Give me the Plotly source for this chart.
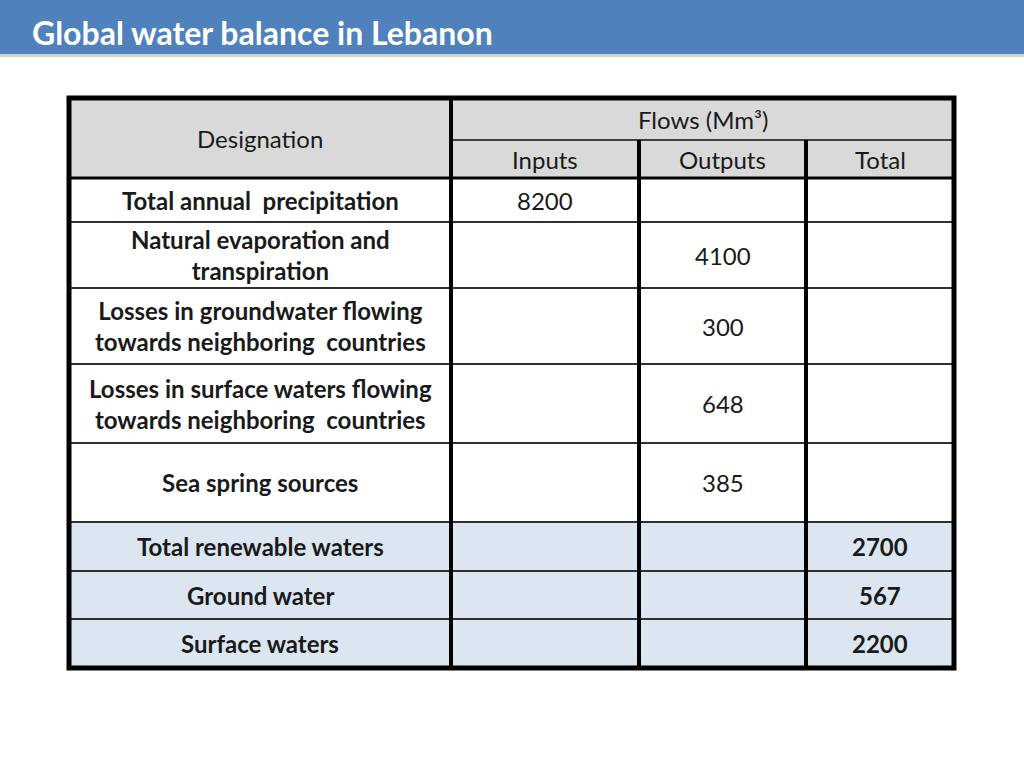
import plotly.graph_objects as go

# ---- data ----
title = "Global water balance in Lebanon"
header_top = ["Designation", "Flows (Mm³)"]
sub_headers = ["Inputs", "Outputs", "Total"]
designations = [
    "Total annual  precipitation",
    "Natural evaporation and<br>transpiration",
    "Losses in groundwater flowing<br>towards neighboring  countries",
    "Losses in surface waters flowing<br>towards neighboring  countries",
    "Sea spring sources",
    "Total renewable waters",
    "Ground water",
    "Surface waters",
]
inputs = ["8200", "", "", "", "", "", "", ""]
outputs = ["", "4100", "300", "648", "385", "", "", ""]
totals = ["", "", "", "", "", "2700", "567", "2200"]
highlight = [False, False, False, False, False, True, True, True]

# ---- layout (pixels) ----
W, H = 1024, 768
col_edges = [69, 451, 639, 806, 954]
head_edges = [98, 140, 178]
row_edges = [178, 222, 288, 364, 443, 522, 571, 619, 668]
FONT = "Lato, 'Open Sans', sans-serif"
FS = 24
GREY = "#D9D9D9"
BLUE = "#DCE6F1"

fig = go.Figure()
shapes = []
ann = []

# title bar
shapes.append(dict(type="rect", x0=0, x1=W, y0=53, y1=57, fillcolor="#D0D0D0", line_width=0, layer="below"))
shapes.append(dict(type="rect", x0=0, x1=W, y0=0, y1=54, fillcolor="#4F81BD", line_width=0))
ann.append(dict(x=30, y=32, text=f"<b>{title}</b>", xanchor="left", yanchor="middle", showarrow=False,
                font=dict(family=FONT, size=32, color="white")))

# header background
shapes.append(dict(type="rect", x0=col_edges[0], x1=col_edges[-1], y0=head_edges[0], y1=head_edges[-1],
                   fillcolor=GREY, line_width=0))
# body backgrounds
for i, hl in enumerate(highlight):
    shapes.append(dict(type="rect", x0=col_edges[0], x1=col_edges[-1], y0=row_edges[i], y1=row_edges[i + 1],
                       fillcolor=BLUE if hl else "white", line_width=0))

# horizontal lines
shapes.append(dict(type="line", x0=col_edges[1], x1=col_edges[-1], y0=head_edges[1], y1=head_edges[1],
                   line=dict(color="#404040", width=2)))
for y in row_edges[1:-1]:
    shapes.append(dict(type="line", x0=col_edges[0], x1=col_edges[-1], y0=y, y1=y,
                       line=dict(color="#303030", width=2)))
shapes.append(dict(type="line", x0=col_edges[0], x1=col_edges[-1], y0=row_edges[0], y1=row_edges[0],
                   line=dict(color="black", width=3)))
# vertical lines
shapes.append(dict(type="line", x0=col_edges[1], x1=col_edges[1], y0=head_edges[0], y1=row_edges[-1],
                   line=dict(color="black", width=4)))
for x in col_edges[2:-1]:
    shapes.append(dict(type="line", x0=x, x1=x, y0=head_edges[1], y1=row_edges[-1],
                       line=dict(color="black", width=4)))
# outer border
shapes.append(dict(type="rect", x0=col_edges[0], x1=col_edges[-1], y0=head_edges[0], y1=row_edges[-1],
                   line=dict(color="black", width=5), fillcolor="rgba(0,0,0,0)"))

def cx(i, j=None):
    j = i + 1 if j is None else j
    return (col_edges[i] + col_edges[j]) / 2

def txt(x, y, s, bold=False):
    ann.append(dict(x=x, y=y, text=f"<b>{s}</b>" if bold else s, showarrow=False, xanchor="center",
                    yanchor="middle", font=dict(family=FONT, size=FS, color="#1a1a1a")))

txt(cx(0), (head_edges[0] + head_edges[2]) / 2, header_top[0])
txt(cx(1, 4), (head_edges[0] + head_edges[1]) / 2, header_top[1])
for j, s in enumerate(sub_headers):
    txt(cx(j + 1), (head_edges[1] + head_edges[2]) / 2, s)

for i in range(len(designations)):
    yc = (row_edges[i] + row_edges[i + 1]) / 2
    txt(cx(0), yc, designations[i], bold=True)
    if inputs[i]:
        txt(cx(1), yc, inputs[i])
    if outputs[i]:
        txt(cx(2), yc, outputs[i])
    if totals[i]:
        txt(cx(3), yc, totals[i], bold=True)

fig.update_layout(
    width=W, height=H, margin=dict(l=0, r=0, t=0, b=0),
    paper_bgcolor="white", plot_bgcolor="white",
    xaxis=dict(range=[0, W], visible=False, fixedrange=True),
    yaxis=dict(range=[H, 0], visible=False, fixedrange=True),
    shapes=shapes, annotations=ann, showlegend=False,
)
fig.write_html("out.html", config={"displayModeBar": False},
               post_script="document.body.style.margin='0';document.body.style.overflow='hidden';")
